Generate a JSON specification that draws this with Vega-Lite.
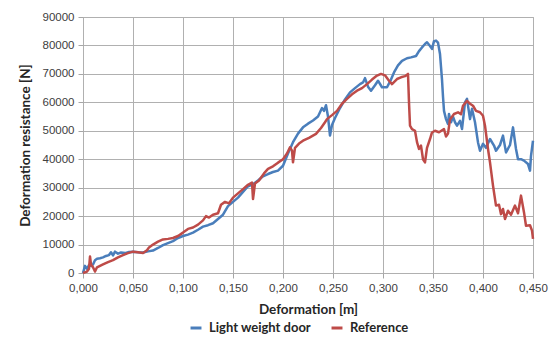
{
  "$schema": "https://vega.github.io/schema/vega-lite/v6.json",
  "padding": {"left": 18, "top": 11, "right": 5, "bottom": 5},
  "width": 450,
  "height": 256,
  "view": {"stroke": "#a6a6a6", "strokeWidth": 1},
  "config": {
    "axis": {
      "labelFont": "Liberation Sans", "labelFontSize": 11.5, "labelColor": "#404040",
      "titleFont": "Lato", "titleFontSize": 13.5, "titleFontWeight": "bold", "titleColor": "#262626"
    },
    "legend": {"labelFont": "Lato", "labelFontSize": 13, "labelFontWeight": "bold", "labelColor": "#262626"}
  },
  "data": {"values": [
    {"x":0.000,"y":0,"s":"Light weight door"},
    {"x":0.002,"y":2500,"s":"Light weight door"},
    {"x":0.004,"y":1500,"s":"Light weight door"},
    {"x":0.006,"y":2800,"s":"Light weight door"},
    {"x":0.008,"y":2500,"s":"Light weight door"},
    {"x":0.010,"y":3000,"s":"Light weight door"},
    {"x":0.012,"y":4500,"s":"Light weight door"},
    {"x":0.014,"y":5000,"s":"Light weight door"},
    {"x":0.017,"y":5200,"s":"Light weight door"},
    {"x":0.020,"y":5500,"s":"Light weight door"},
    {"x":0.023,"y":6000,"s":"Light weight door"},
    {"x":0.026,"y":6300,"s":"Light weight door"},
    {"x":0.028,"y":7300,"s":"Light weight door"},
    {"x":0.030,"y":6200,"s":"Light weight door"},
    {"x":0.032,"y":7500,"s":"Light weight door"},
    {"x":0.035,"y":6800,"s":"Light weight door"},
    {"x":0.038,"y":7200,"s":"Light weight door"},
    {"x":0.042,"y":7000,"s":"Light weight door"},
    {"x":0.046,"y":7400,"s":"Light weight door"},
    {"x":0.050,"y":7500,"s":"Light weight door"},
    {"x":0.055,"y":7300,"s":"Light weight door"},
    {"x":0.060,"y":7200,"s":"Light weight door"},
    {"x":0.065,"y":7600,"s":"Light weight door"},
    {"x":0.070,"y":7900,"s":"Light weight door"},
    {"x":0.075,"y":8800,"s":"Light weight door"},
    {"x":0.080,"y":9800,"s":"Light weight door"},
    {"x":0.085,"y":10500,"s":"Light weight door"},
    {"x":0.090,"y":11200,"s":"Light weight door"},
    {"x":0.095,"y":12300,"s":"Light weight door"},
    {"x":0.100,"y":13000,"s":"Light weight door"},
    {"x":0.105,"y":13500,"s":"Light weight door"},
    {"x":0.110,"y":14200,"s":"Light weight door"},
    {"x":0.115,"y":15200,"s":"Light weight door"},
    {"x":0.120,"y":16300,"s":"Light weight door"},
    {"x":0.125,"y":16800,"s":"Light weight door"},
    {"x":0.130,"y":17500,"s":"Light weight door"},
    {"x":0.135,"y":19000,"s":"Light weight door"},
    {"x":0.140,"y":20500,"s":"Light weight door"},
    {"x":0.145,"y":23500,"s":"Light weight door"},
    {"x":0.150,"y":25000,"s":"Light weight door"},
    {"x":0.155,"y":26500,"s":"Light weight door"},
    {"x":0.160,"y":28500,"s":"Light weight door"},
    {"x":0.165,"y":30500,"s":"Light weight door"},
    {"x":0.170,"y":31200,"s":"Light weight door"},
    {"x":0.175,"y":32500,"s":"Light weight door"},
    {"x":0.180,"y":34000,"s":"Light weight door"},
    {"x":0.185,"y":34800,"s":"Light weight door"},
    {"x":0.190,"y":35500,"s":"Light weight door"},
    {"x":0.195,"y":36000,"s":"Light weight door"},
    {"x":0.200,"y":37700,"s":"Light weight door"},
    {"x":0.205,"y":42000,"s":"Light weight door"},
    {"x":0.210,"y":46000,"s":"Light weight door"},
    {"x":0.215,"y":49000,"s":"Light weight door"},
    {"x":0.220,"y":51200,"s":"Light weight door"},
    {"x":0.225,"y":52500,"s":"Light weight door"},
    {"x":0.230,"y":53600,"s":"Light weight door"},
    {"x":0.235,"y":55000,"s":"Light weight door"},
    {"x":0.239,"y":58000,"s":"Light weight door"},
    {"x":0.241,"y":57000,"s":"Light weight door"},
    {"x":0.243,"y":59000,"s":"Light weight door"},
    {"x":0.245,"y":55000,"s":"Light weight door"},
    {"x":0.247,"y":48300,"s":"Light weight door"},
    {"x":0.249,"y":52000,"s":"Light weight door"},
    {"x":0.252,"y":54500,"s":"Light weight door"},
    {"x":0.257,"y":58000,"s":"Light weight door"},
    {"x":0.262,"y":61000,"s":"Light weight door"},
    {"x":0.267,"y":63500,"s":"Light weight door"},
    {"x":0.272,"y":65000,"s":"Light weight door"},
    {"x":0.277,"y":66400,"s":"Light weight door"},
    {"x":0.280,"y":67000,"s":"Light weight door"},
    {"x":0.282,"y":68500,"s":"Light weight door"},
    {"x":0.285,"y":65500,"s":"Light weight door"},
    {"x":0.288,"y":64100,"s":"Light weight door"},
    {"x":0.292,"y":66000,"s":"Light weight door"},
    {"x":0.295,"y":67600,"s":"Light weight door"},
    {"x":0.299,"y":65300,"s":"Light weight door"},
    {"x":0.304,"y":65300,"s":"Light weight door"},
    {"x":0.308,"y":68000,"s":"Light weight door"},
    {"x":0.311,"y":70500,"s":"Light weight door"},
    {"x":0.315,"y":73000,"s":"Light weight door"},
    {"x":0.319,"y":74600,"s":"Light weight door"},
    {"x":0.324,"y":75500,"s":"Light weight door"},
    {"x":0.328,"y":75800,"s":"Light weight door"},
    {"x":0.333,"y":76300,"s":"Light weight door"},
    {"x":0.336,"y":78000,"s":"Light weight door"},
    {"x":0.339,"y":79300,"s":"Light weight door"},
    {"x":0.342,"y":80500,"s":"Light weight door"},
    {"x":0.344,"y":81100,"s":"Light weight door"},
    {"x":0.347,"y":79800,"s":"Light weight door"},
    {"x":0.349,"y":78800,"s":"Light weight door"},
    {"x":0.351,"y":81500,"s":"Light weight door"},
    {"x":0.353,"y":81700,"s":"Light weight door"},
    {"x":0.355,"y":81000,"s":"Light weight door"},
    {"x":0.357,"y":77000,"s":"Light weight door"},
    {"x":0.359,"y":68000,"s":"Light weight door"},
    {"x":0.360,"y":62000,"s":"Light weight door"},
    {"x":0.361,"y":57000,"s":"Light weight door"},
    {"x":0.363,"y":54100,"s":"Light weight door"},
    {"x":0.365,"y":52400,"s":"Light weight door"},
    {"x":0.366,"y":55900,"s":"Light weight door"},
    {"x":0.368,"y":53000,"s":"Light weight door"},
    {"x":0.370,"y":55000,"s":"Light weight door"},
    {"x":0.372,"y":53000,"s":"Light weight door"},
    {"x":0.374,"y":51800,"s":"Light weight door"},
    {"x":0.377,"y":53500,"s":"Light weight door"},
    {"x":0.379,"y":50600,"s":"Light weight door"},
    {"x":0.382,"y":60000,"s":"Light weight door"},
    {"x":0.384,"y":61200,"s":"Light weight door"},
    {"x":0.387,"y":54100,"s":"Light weight door"},
    {"x":0.389,"y":57700,"s":"Light weight door"},
    {"x":0.392,"y":53000,"s":"Light weight door"},
    {"x":0.395,"y":45900,"s":"Light weight door"},
    {"x":0.397,"y":43000,"s":"Light weight door"},
    {"x":0.400,"y":45400,"s":"Light weight door"},
    {"x":0.403,"y":44000,"s":"Light weight door"},
    {"x":0.407,"y":47100,"s":"Light weight door"},
    {"x":0.411,"y":44800,"s":"Light weight door"},
    {"x":0.413,"y":43000,"s":"Light weight door"},
    {"x":0.417,"y":45000,"s":"Light weight door"},
    {"x":0.420,"y":48300,"s":"Light weight door"},
    {"x":0.423,"y":42400,"s":"Light weight door"},
    {"x":0.427,"y":45000,"s":"Light weight door"},
    {"x":0.430,"y":51200,"s":"Light weight door"},
    {"x":0.433,"y":43600,"s":"Light weight door"},
    {"x":0.435,"y":40000,"s":"Light weight door"},
    {"x":0.438,"y":40000,"s":"Light weight door"},
    {"x":0.441,"y":39500,"s":"Light weight door"},
    {"x":0.445,"y":38300,"s":"Light weight door"},
    {"x":0.447,"y":36000,"s":"Light weight door"},
    {"x":0.448,"y":41200,"s":"Light weight door"},
    {"x":0.450,"y":46500,"s":"Light weight door"},
    {"x":0.000,"y":0,"s":"Reference"},
    {"x":0.004,"y":500,"s":"Reference"},
    {"x":0.006,"y":1500,"s":"Reference"},
    {"x":0.007,"y":5800,"s":"Reference"},
    {"x":0.008,"y":3000,"s":"Reference"},
    {"x":0.010,"y":2000,"s":"Reference"},
    {"x":0.012,"y":500,"s":"Reference"},
    {"x":0.014,"y":2000,"s":"Reference"},
    {"x":0.017,"y":2500,"s":"Reference"},
    {"x":0.020,"y":3000,"s":"Reference"},
    {"x":0.025,"y":3800,"s":"Reference"},
    {"x":0.030,"y":4500,"s":"Reference"},
    {"x":0.035,"y":5500,"s":"Reference"},
    {"x":0.040,"y":6300,"s":"Reference"},
    {"x":0.045,"y":7000,"s":"Reference"},
    {"x":0.050,"y":7500,"s":"Reference"},
    {"x":0.055,"y":7300,"s":"Reference"},
    {"x":0.060,"y":7000,"s":"Reference"},
    {"x":0.064,"y":8000,"s":"Reference"},
    {"x":0.066,"y":9000,"s":"Reference"},
    {"x":0.070,"y":10000,"s":"Reference"},
    {"x":0.075,"y":11000,"s":"Reference"},
    {"x":0.080,"y":11800,"s":"Reference"},
    {"x":0.085,"y":12000,"s":"Reference"},
    {"x":0.090,"y":12300,"s":"Reference"},
    {"x":0.095,"y":13000,"s":"Reference"},
    {"x":0.100,"y":14200,"s":"Reference"},
    {"x":0.105,"y":15500,"s":"Reference"},
    {"x":0.110,"y":16000,"s":"Reference"},
    {"x":0.115,"y":17000,"s":"Reference"},
    {"x":0.120,"y":18500,"s":"Reference"},
    {"x":0.123,"y":20000,"s":"Reference"},
    {"x":0.126,"y":19500,"s":"Reference"},
    {"x":0.130,"y":20500,"s":"Reference"},
    {"x":0.135,"y":21000,"s":"Reference"},
    {"x":0.138,"y":24000,"s":"Reference"},
    {"x":0.142,"y":25000,"s":"Reference"},
    {"x":0.146,"y":24500,"s":"Reference"},
    {"x":0.150,"y":26500,"s":"Reference"},
    {"x":0.155,"y":28000,"s":"Reference"},
    {"x":0.160,"y":29500,"s":"Reference"},
    {"x":0.165,"y":31000,"s":"Reference"},
    {"x":0.169,"y":31800,"s":"Reference"},
    {"x":0.170,"y":26000,"s":"Reference"},
    {"x":0.172,"y":31500,"s":"Reference"},
    {"x":0.176,"y":32500,"s":"Reference"},
    {"x":0.181,"y":35000,"s":"Reference"},
    {"x":0.185,"y":36600,"s":"Reference"},
    {"x":0.190,"y":37500,"s":"Reference"},
    {"x":0.195,"y":38800,"s":"Reference"},
    {"x":0.200,"y":40000,"s":"Reference"},
    {"x":0.204,"y":42000,"s":"Reference"},
    {"x":0.207,"y":44200,"s":"Reference"},
    {"x":0.209,"y":43000,"s":"Reference"},
    {"x":0.210,"y":38900,"s":"Reference"},
    {"x":0.212,"y":44000,"s":"Reference"},
    {"x":0.216,"y":45500,"s":"Reference"},
    {"x":0.220,"y":46500,"s":"Reference"},
    {"x":0.226,"y":47500,"s":"Reference"},
    {"x":0.233,"y":48900,"s":"Reference"},
    {"x":0.238,"y":51000,"s":"Reference"},
    {"x":0.242,"y":53000,"s":"Reference"},
    {"x":0.244,"y":54100,"s":"Reference"},
    {"x":0.249,"y":55500,"s":"Reference"},
    {"x":0.254,"y":57000,"s":"Reference"},
    {"x":0.259,"y":59500,"s":"Reference"},
    {"x":0.264,"y":61200,"s":"Reference"},
    {"x":0.269,"y":62800,"s":"Reference"},
    {"x":0.274,"y":64100,"s":"Reference"},
    {"x":0.279,"y":65000,"s":"Reference"},
    {"x":0.284,"y":66400,"s":"Reference"},
    {"x":0.289,"y":68000,"s":"Reference"},
    {"x":0.294,"y":69400,"s":"Reference"},
    {"x":0.298,"y":70000,"s":"Reference"},
    {"x":0.302,"y":69500,"s":"Reference"},
    {"x":0.306,"y":67600,"s":"Reference"},
    {"x":0.309,"y":66400,"s":"Reference"},
    {"x":0.314,"y":68200,"s":"Reference"},
    {"x":0.318,"y":68800,"s":"Reference"},
    {"x":0.322,"y":69200,"s":"Reference"},
    {"x":0.325,"y":70000,"s":"Reference"},
    {"x":0.326,"y":60000,"s":"Reference"},
    {"x":0.327,"y":51800,"s":"Reference"},
    {"x":0.329,"y":50600,"s":"Reference"},
    {"x":0.332,"y":50000,"s":"Reference"},
    {"x":0.334,"y":46000,"s":"Reference"},
    {"x":0.336,"y":43600,"s":"Reference"},
    {"x":0.338,"y":44800,"s":"Reference"},
    {"x":0.340,"y":40000,"s":"Reference"},
    {"x":0.342,"y":38900,"s":"Reference"},
    {"x":0.344,"y":44000,"s":"Reference"},
    {"x":0.347,"y":47100,"s":"Reference"},
    {"x":0.349,"y":49400,"s":"Reference"},
    {"x":0.352,"y":50000,"s":"Reference"},
    {"x":0.356,"y":49500,"s":"Reference"},
    {"x":0.361,"y":50600,"s":"Reference"},
    {"x":0.363,"y":48000,"s":"Reference"},
    {"x":0.365,"y":49000,"s":"Reference"},
    {"x":0.367,"y":54000,"s":"Reference"},
    {"x":0.371,"y":55900,"s":"Reference"},
    {"x":0.375,"y":56500,"s":"Reference"},
    {"x":0.378,"y":55800,"s":"Reference"},
    {"x":0.380,"y":58800,"s":"Reference"},
    {"x":0.384,"y":60500,"s":"Reference"},
    {"x":0.387,"y":59500,"s":"Reference"},
    {"x":0.390,"y":58800,"s":"Reference"},
    {"x":0.393,"y":57000,"s":"Reference"},
    {"x":0.397,"y":56500,"s":"Reference"},
    {"x":0.400,"y":55300,"s":"Reference"},
    {"x":0.402,"y":51800,"s":"Reference"},
    {"x":0.405,"y":43600,"s":"Reference"},
    {"x":0.407,"y":38900,"s":"Reference"},
    {"x":0.410,"y":30700,"s":"Reference"},
    {"x":0.413,"y":23700,"s":"Reference"},
    {"x":0.416,"y":24000,"s":"Reference"},
    {"x":0.418,"y":20700,"s":"Reference"},
    {"x":0.420,"y":22500,"s":"Reference"},
    {"x":0.422,"y":19000,"s":"Reference"},
    {"x":0.425,"y":21900,"s":"Reference"},
    {"x":0.428,"y":20500,"s":"Reference"},
    {"x":0.432,"y":23700,"s":"Reference"},
    {"x":0.435,"y":21000,"s":"Reference"},
    {"x":0.438,"y":27200,"s":"Reference"},
    {"x":0.441,"y":21300,"s":"Reference"},
    {"x":0.443,"y":16600,"s":"Reference"},
    {"x":0.447,"y":16800,"s":"Reference"},
    {"x":0.449,"y":14900,"s":"Reference"},
    {"x":0.450,"y":12000,"s":"Reference"}
  ]},
  "mark": {"type": "line", "strokeWidth": 2.5, "strokeJoin": "round"},
  "encoding": {
    "x": {"field": "x", "type": "quantitative",
      "scale": {"domain": [0, 0.45], "nice": false, "zero": true},
      "axis": {"grid": true, "gridColor": "#b0b0b0", "gridOpacity": 1, "gridWidth": 1, "domain": false, "ticks": true, "tickColor": "#a6a6a6", "tickSize": 5, "labelFlush": false, "values": [0,0.05,0.1,0.15,0.2,0.25,0.3,0.35,0.4,0.45], "labelExpr": "replace(format(datum.value, '.3f'), '.', ',')", "title": "Deformation [m]", "labelPadding": 4, "titlePadding": 9}},
    "y": {"field": "y", "type": "quantitative",
      "scale": {"domain": [0, 90000], "nice": false},
      "axis": {"grid": true, "gridColor": "#b0b0b0", "gridOpacity": 1, "gridWidth": 1, "domain": false, "ticks": true, "tickColor": "#a6a6a6", "tickSize": 5, "values": [0,10000,20000,30000,40000,50000,60000,70000,80000,90000], "format": "d", "title": "Deformation resistance [N]", "labelPadding": 4, "titlePadding": 10}},
    "color": {"field": "s", "type": "nominal",
      "scale": {"domain": ["Light weight door", "Reference"], "range": ["#4a7ebb", "#be4b48"]},
      "legend": {"title": null, "orient": "none", "legendX": 106, "legendY": 304, "direction": "horizontal", "symbolType": "stroke", "symbolSize": 120, "symbolStrokeWidth": 3, "columnPadding": 14, "labelOffset": 6}}
  }
}
